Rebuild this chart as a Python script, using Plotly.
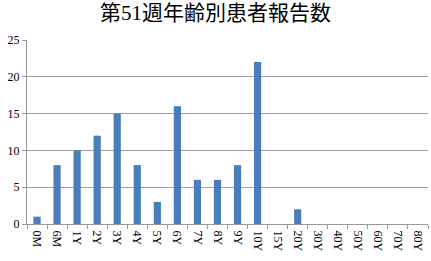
import plotly.graph_objects as go

categories = ["0M","6M","1Y","2Y","3Y","4Y","5Y","6Y","7Y","8Y","9Y","10Y",
              "15Y","20Y","30Y","40Y","50Y","60Y","70Y","80Y"]
values = [1,8,10,12,15,8,3,16,6,6,8,22,0,2,0,0,0,0,0,0]
y_ticks = [0,5,10,15,20,25]

fig = go.Figure(go.Bar(x=categories, y=values, marker=dict(color="#4A7EBB", line=dict(width=0))))
fig.update_layout(
    width=431, height=261,
    margin=dict(l=27, r=3, t=40, b=37),
    paper_bgcolor="white", plot_bgcolor="white",
    bargap=0.64,
    showlegend=False,
    title=dict(text="第51週年齢別患者報告数", x=0.5, xanchor="center", y=0.95, yanchor="middle",
               font=dict(family="Liberation Serif, Noto Sans CJK JP", size=21, color="#000")),
    font=dict(family="Liberation Serif", color="#000"),
)
fig.update_xaxes(type="category", tickangle=90, tickfont=dict(size=12, family="Liberation Serif"),
                 showline=True, linecolor="#999", linewidth=1, ticks="outside", tickson="boundaries",
                 ticklen=4, tickcolor="#999", showgrid=False, ticklabelstandoff=3)
fig.update_yaxes(range=[0,25], tickvals=y_ticks, tickfont=dict(size=12, family="Liberation Serif"),
                 showline=True, linecolor="#999", linewidth=1, showgrid=True, gridcolor="#a0a0a0",
                 ticks="outside", ticklen=4, tickcolor="#999", zeroline=False)
fig.write_html("out.html")
